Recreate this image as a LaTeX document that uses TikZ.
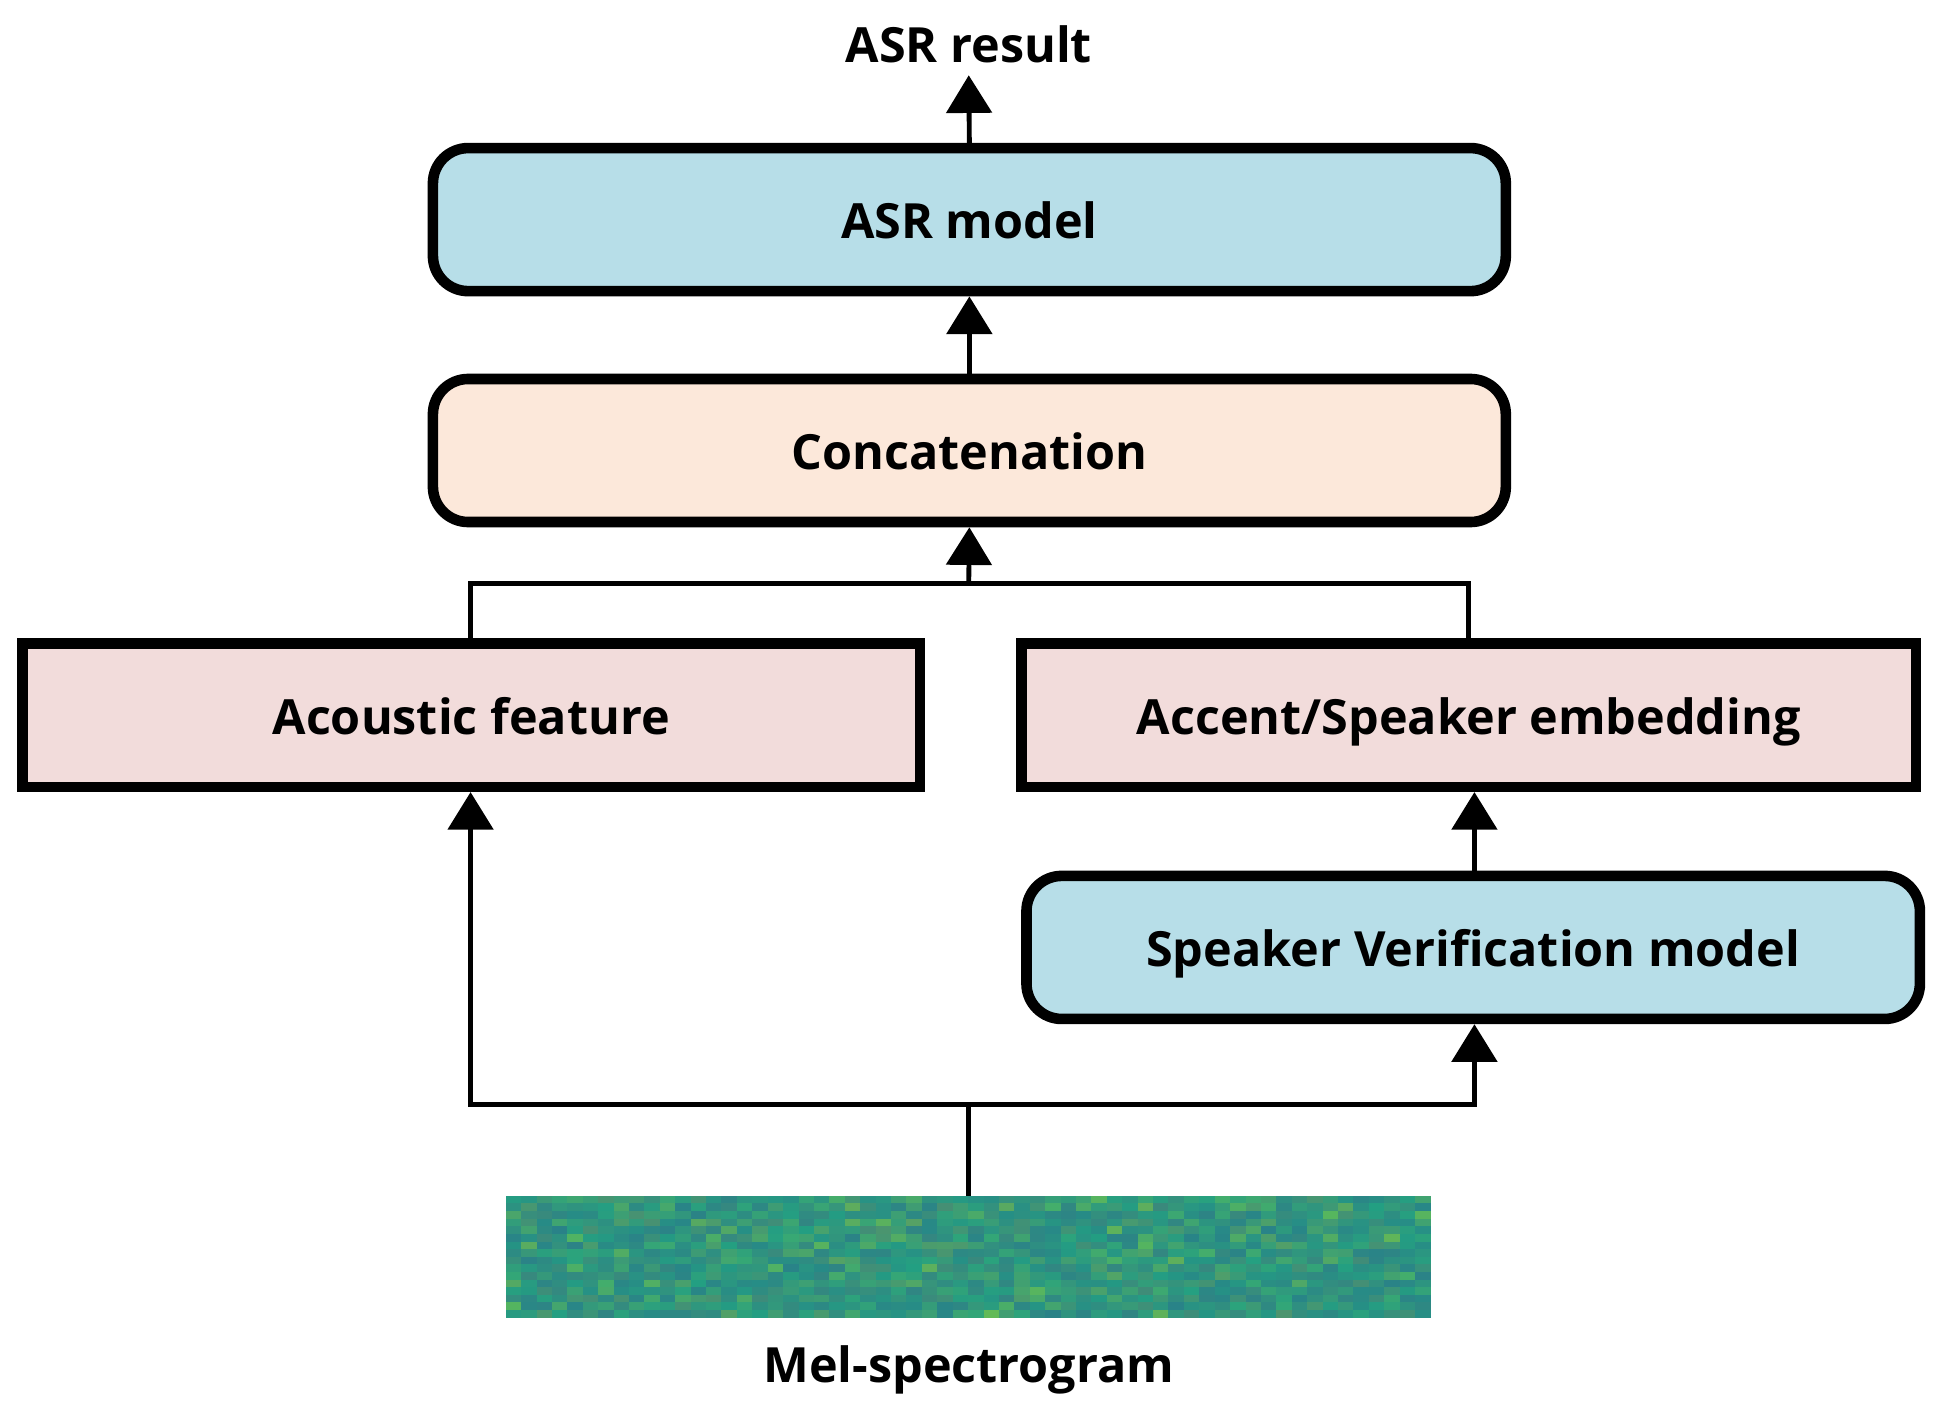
\documentclass[tikz,border=0pt]{standalone}
\usepackage{fontspec}
\setmainfont{Open Sans}
\usetikzlibrary{arrows.meta}
\definecolor{asrblue}{RGB}{183,222,232}
\definecolor{concatpeach}{RGB}{252,232,218}
\definecolor{featpink}{RGB}{242,220,219}
\definecolor{specteal}{RGB}{35,160,130}
\definecolor{specblue}{RGB}{45,110,140}
\definecolor{specgreen}{RGB}{150,210,50}
\tikzset{
  block/.style = {draw, line width = 2.4pt, minimum width = 8.55cm,
    minimum height = 1.14cm, text height = 2.2ex, text depth = 0.6ex,
    font = \bfseries\fontsize{11}{13}\selectfont},
  roundblock/.style = {block, rounded corners = 8pt},
  link/.style = {line width = 1.1pt},
  arrowlink/.style = {link, -{Triangle[width = 0.36cm, length = 0.3cm]}},
  caption/.style = {font = \bfseries\fontsize{11}{13}\selectfont}
}
\begin{document}
\begin{tikzpicture}[yscale = -1]
        \useasboundingbox (0,0) rectangle (15.5,11.28);

        % draws the blocks
        \node[roundblock, fill = asrblue] (asr) at (7.725,1.75) {ASR model};
        \node[roundblock, fill = concatpeach] (concat) at (7.725,3.59) {Concatenation};
        \node[block, fill = featpink, minimum width = 7.15cm] (acoustic)
          at (3.755,5.70) {Acoustic feature};
        \node[block, fill = featpink, minimum width = 7.13cm] (embed)
          at (11.705,5.70) {Accent/Speaker embedding};
        \node[roundblock, fill = asrblue, minimum width = 7.12cm] (verif)
          at (11.74,7.55) {Speaker Verification model};

        % draws the spectrogram
        \pgfmathsetseed{7}
        \foreach \i in {0,...,59}
          \foreach \j in {0,...,15} {
            \pgfmathsetmacro\p{int(40 + 60*rnd)}
            \pgfmathsetmacro\q{int(70*rnd*rnd)}
            \fill[fill = specgreen!\q!specteal!\p!specblue]
              (4.03 + 0.12283*\i, 9.53 + 0.060625*\j) rectangle ++(0.12383,0.061);
          }
        \coordinate (spec) at (7.72,9.53);

        % draws the texts
        \node[caption] (result) at (7.72,0.35) {ASR result};
        \node[caption] (mel) at (7.72,10.92) {Mel-spectrogram};

        % draws the connectors
        \coordinate (split) at (7.72,8.80);
        \coordinate (join) at (7.72,4.65);
        \draw[link] (spec) -- (split);
        \draw[arrowlink] (split) -| (acoustic.south -| 3.75,0);
        \draw[arrowlink] (split) -| (verif.south -| 11.75,0);
        \draw[arrowlink] (verif.north -| 11.75,0) -- (embed.south -| 11.75,0);
        \draw[link] (acoustic.north -| 3.75,0) |- (join) -| (embed.north -| 11.70,0);
        \draw[arrowlink] (join) -- (concat.south);
        \draw[arrowlink] (concat.north) -- (asr.south);
        \draw[arrowlink] (asr.north) -- (7.72,0.60);
      \end{tikzpicture}
\end{document}
